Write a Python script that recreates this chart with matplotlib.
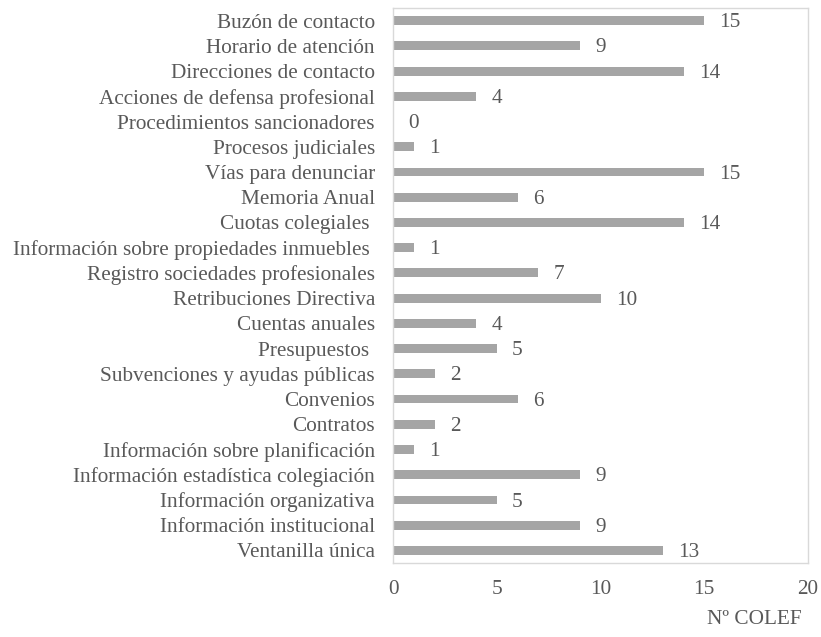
import matplotlib.pyplot as plt

categorias = ["Buzón de contacto", "Horario de atención", "Direcciones de contacto",
              "Acciones de defensa profesional", "Procedimientos sancionadores",
              "Procesos judiciales", "Vías para denunciar", "Memoria Anual",
              "Cuotas colegiales ", "Información sobre propiedades inmuebles ",
              "Registro sociedades profesionales", "Retribuciones Directiva",
              "Cuentas anuales", "Presupuestos ", "Subvenciones y ayudas públicas",
              "Convenios", "Contratos", "Información sobre planificación",
              "Información estadística colegiación", "Información organizativa",
              "Información institucional", "Ventanilla única"]
valores = [15, 9, 14, 4, 0, 1, 15, 6, 14, 1, 7, 10, 4, 5, 2, 6, 2, 1, 9, 5, 9, 13]
ticks_x = [0, 5, 10, 15, 20]

GRIS_TEXTO = '#595959'
TAM = 15.3
plt.rcParams['font.family'] = ['Liberation Serif', 'DejaVu Serif']

fig = plt.figure(figsize=(8.21, 6.37), dpi=100)
ax = fig.add_axes([0.4787, 0.1162, 0.5055, 0.8712])

y = list(range(len(categorias)))
ax.barh(y, valores, height=0.35, color='#A5A5A5')
for yi, v in zip(y, valores):
    ax.annotate(str(v), (v, yi), xytext=(11, -1.5), textcoords='offset points',
                ha='left', va='center', fontsize=TAM, color=GRIS_TEXTO)

ax.set_ylim(len(categorias) - 0.5, -0.5)
ax.set_xlim(0, 20)
ax.set_yticks(y)
ax.set_yticklabels(categorias)
ax.set_xticks(ticks_x)
ax.tick_params(axis='both', length=0, labelsize=TAM, labelcolor=GRIS_TEXTO)
ax.tick_params(axis='y', pad=13)
ax.tick_params(axis='x', pad=12)
for s in ax.spines.values():
    s.set_color('#D9D9D9')
    s.set_linewidth(1)

fig.text(0.977, 0.028, "Nº COLEF", ha='right', va='center', fontsize=TAM, color=GRIS_TEXTO)

fig.savefig('out.png', dpi=100)
